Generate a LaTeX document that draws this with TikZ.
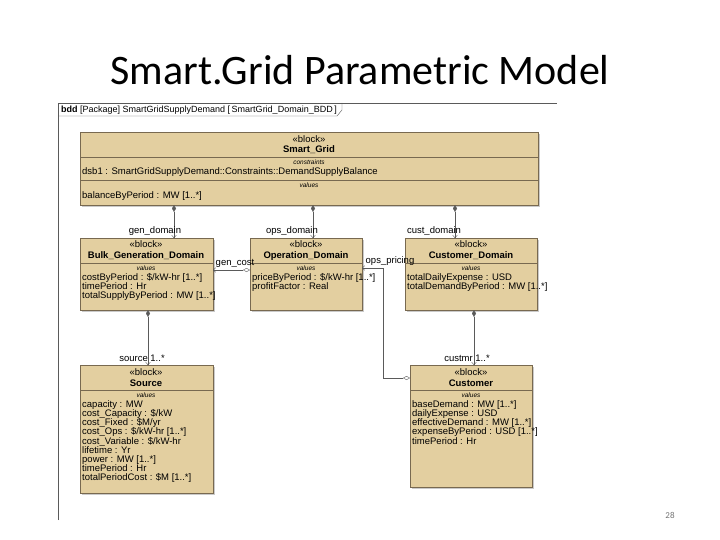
\documentclass[tikz,border=0pt]{standalone}
\usepackage{fontspec}
\setmainfont{Liberation Sans}
\newfontfamily\titlefont{Carlito}
\usetikzlibrary{arrows.meta,shadows}
\definecolor{blk}{RGB}{227,207,160}
\definecolor{bord}{RGB}{120,105,80}
\definecolor{cline}{RGB}{90,90,90}
\tikzset{
 box/.style={draw=bord,fill=blk,anchor=north west,inner sep=0,drop shadow={shadow xshift=2pt,shadow yshift=-2pt,fill=black!35,opacity=0.6}},
 stereo/.style={font=\fontsize{9.5}{10}\selectfont,inner sep=0},
 bname/.style={font=\fontsize{9.5}{10}\selectfont\bfseries,inner sep=0},
 sect/.style={font=\fontsize{6.5}{7}\selectfont\itshape,inner sep=0},
 attr/.style={font=\fontsize{9.5}{10}\selectfont,inner sep=0,anchor=base west},
 lbl/.style={font=\fontsize{9.5}{10}\selectfont,inner sep=0},
 comp/.style={draw=cline,{Diamond[length=7pt,width=4pt]}-{To[length=3pt,width=5pt]}},
 agg/.style={draw=cline,{Diamond[open,length=7pt,width=4pt]}-{To[length=3pt,width=5pt]}},
}
\begin{document}
\begin{tikzpicture}[x=1pt,y=-1pt]
\useasboundingbox (0,0) rectangle (720,540);
\node[font=\titlefont\fontsize{42}{46}\selectfont] (title) at (360,70) {Smart.Grid Parametric Model};
\node[font=\titlefont\fontsize{9}{10}\selectfont,text=black!55] (pg) at (670,515) {28};
% frame
\draw[cline] (58,520) -- (58,103) -- (557,103);
\draw[cline] (58,116) -- (337,116) -- (342,110) -- (342,103);
\node[attr,font=\fontsize{9}{10}\selectfont] (hdr) at (61,113) {\textbf{bdd} [Package] SmartGridSupplyDemand [\,SmartGrid\_Domain\_BDD\,]};
% Smart_Grid
\node[box,minimum width=458,minimum height=73] (sg) at (80,132) {};
\draw[bord] (80,157)--(538,157) (80,180)--(538,180);
\node[stereo] (sg1) at (309,139) {«block»};
\node[bname] (sg2) at (309,150) {Smart\_Grid};
\node[sect] (sg3) at (309,162) {constraints};
\node[attr] (sg4) at (82,174.5) {dsb1 : SmartGridSupplyDemand::Constraints::DemandSupplyBalance};
\node[sect] (sg5) at (309,185) {values};
\node[attr] (sg6) at (82,198.5) {balanceByPeriod : MW [1..*]};
% Bulk
\node[box,minimum width=133,minimum height=72] (bg) at (80,238) {};
\draw[bord] (80,263)--(213,263);
\node[stereo] at (146,244) {«block»};
\node[bname] at (146,256) {Bulk\_Generation\_Domain};
\node[sect] at (146,268) {values};
\node[attr] at (82,280.5) {costByPeriod : \$/kW-hr [1..*]};
\node[attr] at (82,289.5) {timePeriod : Hr};
\node[attr] at (82,298.5) {totalSupplyByPeriod : MW [1..*]};
% Operation
\node[box,minimum width=112,minimum height=72] (op) at (250,238) {};
\draw[bord] (250,263)--(362,263);
\node[stereo] at (306,244) {«block»};
\node[bname] at (306,256) {Operation\_Domain};
\node[sect] at (306,268) {values};
\node[attr] at (252,280.5) {priceByPeriod : \$/kW-hr [1..*]};
\node[attr] at (252,289.5) {profitFactor : Real};
% Customer_Domain
\node[box,minimum width=132,minimum height=72] (cd) at (405,238) {};
\draw[bord] (405,263)--(537,263);
\node[stereo] at (471,244) {«block»};
\node[bname] at (471,256) {Customer\_Domain};
\node[sect] at (471,268) {values};
\node[attr] at (407,280.5) {totalDailyExpense : USD};
\node[attr] at (407,289.5) {totalDemandByPeriod : MW [1..*]};
% Source
\node[box,minimum width=133,minimum height=128] (src) at (80,365) {};
\draw[bord] (80,390)--(213,390);
\node[stereo] at (146,372) {«block»};
\node[bname] at (146,383) {Source};
\node[sect] at (146,395) {values};
\foreach \t [count=\i] in {capacity : MW,cost\_Capacity : \$/kW,cost\_Fixed : \$M/yr,cost\_Ops : \$/kW-hr [1..*],cost\_Variable : \$/kW-hr,lifetime : Yr,power : MW [1..*],timePeriod : Hr,totalPeriodCost : \$M [1..*]}
  \node[attr] at (82,398.5+9.1*\i) {\t};
% Customer
\node[box,minimum width=122,minimum height=122] (cu) at (410,365) {};
\draw[bord] (410,390)--(532,390);
\node[stereo] at (471,372) {«block»};
\node[bname] at (471,383) {Customer};
\node[sect] at (471,395) {values};
\foreach \t [count=\i] in {baseDemand : MW [1..*],dailyExpense : USD,effectiveDemand : MW [1..*],expenseByPeriod : USD [1..*],timePeriod : Hr}
  \node[attr] at (412,398.5+9.1*\i) {\t};
% connectors
\coordinate (a1) at (174,205); \coordinate (b1) at (174,238);
\coordinate (a2) at (313,205); \coordinate (b2) at (313,238);
\coordinate (a3) at (455,205); \coordinate (b3) at (455,238);
\draw[comp] (a1)--(b1); \draw[comp] (a2)--(b2); \draw[comp] (a3)--(b3);
\node[lbl] at (155,231) {gen\_domain};
\node[lbl] at (292,231) {ops\_domain};
\node[lbl] at (434,231) {cust\_domain};
\coordinate (c1) at (148,310); \coordinate (d1) at (148,365);
\coordinate (c2) at (474,310); \coordinate (d2) at (474,365);
\draw[comp] (c1)--(d1); \draw[comp] (c2)--(d2);
\node[lbl] at (142,358) {source 1..*};
\node[lbl] at (467,358) {custmr 1..*};
\coordinate (e1) at (250,270); \coordinate (f1) at (213,270);
\draw[agg] (e1)--(f1);
\node[lbl] at (235,263) {gen\_cost};
\coordinate (g1) at (410,378); \coordinate (h1) at (362,268);
\draw[agg] (g1) -- (383,378) -- (383,268) -- (h1);
\node[lbl] at (390,261) {ops\_pricing};
\end{tikzpicture}
\end{document}
